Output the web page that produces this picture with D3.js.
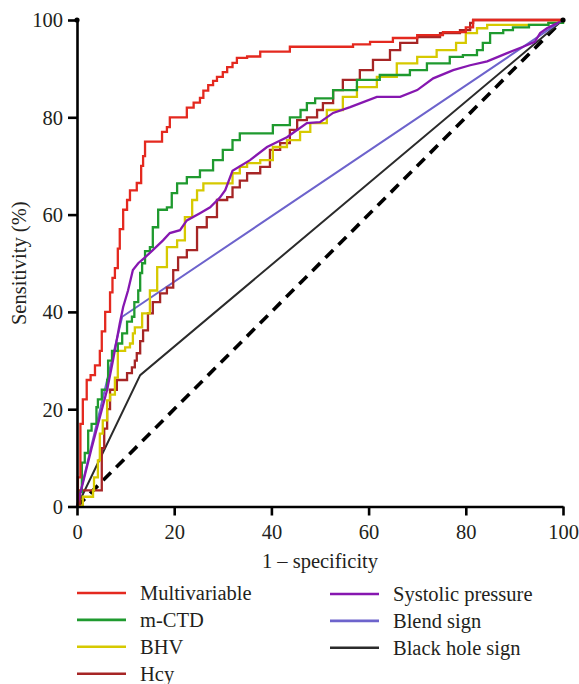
<!DOCTYPE html>
<html>
<head>
<meta charset="utf-8">
<script src="https://cdn.jsdelivr.net/npm/d3@7"></script>
<style>
  html, body { margin: 0; padding: 0; background: #fff; }
  svg { display: block; }
  text { font-family: "Liberation Serif", "DejaVu Serif", serif !important; fill: #231f20; }
</style>
</head>
<body>
<svg id="chart" width="579" height="684"></svg>
<script>
// ---- data (x = 1 - specificity %, y = sensitivity %) ----
const seriesNames = ["Multivariable", "m-CTD", "BHV", "Hcy", "Systolic pressure", "Blend sign", "Black hole sign"];
const seriesColors = ["#e4291f", "#1f9a2f", "#d6c900", "#a62525", "#8617b0", "#6d63cc", "#2b2b2b"];
const xTicks = [0, 20, 40, 60, 80, 100];
const yTicks = [0, 20, 40, 60, 80, 100];

const multivariable = [[0,0],[0.2,6],[0.7,17],[1.2,22],[2,26],[2.8,27],[3.7,29],[4.7,32],[5.1,36],[5.8,40],[6.8,44],[7.3,47],[7.8,49],[8.4,53],[8.8,57],[9.5,61],[10.3,63],[10.9,65],[12.3,66.5],[13.2,70],[13.6,72],[14,75],[16.5,75],[17.5,77],[18.5,78],[19.1,80],[21.2,80],[22.6,82],[24,83],[25.3,84],[26,85.5],[27,86.6],[28,87.5],[28.8,88.3],[30,89.3],[30.9,90.3],[32,91.2],[32.9,92.2],[35,92.5],[37.7,93.5],[43.8,94.5],[56.8,95],[60.3,95.5],[65,96.3],[70,96.9],[75.3,97.5],[80,98.5],[81.5,100],[100,100]];
const mctd = [[0,0],[0.2,3],[1,9],[1.6,11],[2.3,15.6],[3,17],[4,20.4],[4.3,22],[5.1,24],[6.2,26],[6.4,30],[7.2,32],[8.4,33.5],[9.3,35.6],[10.3,38],[11.3,39],[11.8,42],[12.6,44.4],[13,48],[13.4,50],[14,52.5],[15,53.3],[15.6,57.4],[16.7,61],[18.5,61.5],[19.5,64.4],[20.6,66.4],[22.6,67.7],[25.3,69.1],[28,71.2],[30,73.3],[32,75.3],[33.5,76.7],[37.7,76.7],[40.3,78.4],[43.8,80],[46,81.5],[47.3,82.9],[49,83.9],[52.7,85.6],[57.6,87.7],[62.3,88.7],[68.5,89.7],[72,91.1],[76.7,92.4],[79.4,92.8],[82.3,93.8],[83.5,95.3],[85,97.3],[87.7,97.9],[89.7,98.5],[93,99],[97,99.4],[100,100]];
const bhv = [[0,0],[1.2,2],[3.3,3.3],[3.5,6],[4.3,9.5],[4.7,15],[5.3,17.7],[6.2,21.8],[6.8,23],[7.8,26.5],[8.4,32],[9.9,32.7],[10.9,33.5],[11.5,35.6],[11.9,36.8],[13.4,39.7],[15,44.4],[16.5,49.2],[18.5,53.3],[20.6,54.7],[22.2,59.5],[23.7,63],[24.7,65],[26,66.4],[30.9,66.4],[32,68.5],[33.5,69.8],[35,70.6],[37.7,71.2],[40.3,73.9],[43.2,75.3],[45.9,77],[48,78.8],[51.4,81.5],[54.7,84.2],[57.6,86.2],[61.7,88.3],[65.8,91.1],[70,92.4],[74,93.8],[78,95.3],[80,97.3],[82.3,98.3],[84.4,99],[97,99.4],[100,100]];
const hcy = [[0,0],[0.6,3.3],[5.1,12],[5.6,16],[6.2,20],[6.8,24],[8.2,26],[10.3,27.4],[11.3,28.6],[11.9,30],[12.3,31.5],[13,34],[13.6,36.2],[14.6,39.7],[15.6,42],[17.1,43.8],[18.5,45],[19.8,48.6],[20.8,51.2],[22.6,52.7],[24.7,57.4],[26.7,59.5],[28.8,63],[30.9,63.6],[32,65.6],[33.5,67],[35,68.5],[37.7,69.8],[39.7,73.3],[41.8,74.7],[43.8,77.4],[45.3,79.4],[47.3,80],[49.4,81.5],[50.6,82.9],[52.7,85.6],[54.7,87.7],[58.2,89.7],[60.9,91.8],[64.4,93.8],[66.5,95.3],[70,96.5],[74.7,97.3],[78.8,97.9],[80.9,99.4],[81.5,100],[100,100]];
const systolic = [[0,0],[3,12],[6.2,24],[7.4,30],[8.8,37.6],[9.5,41],[10.5,44.4],[11.5,48.6],[12.6,50],[14,51.2],[15.6,52.7],[17.7,54.7],[19.1,56.2],[21.2,56.8],[22.6,58.8],[25.3,60.3],[27.4,61.5],[29.4,63.5],[30.5,65],[32,69],[35.6,71.2],[39.1,73.9],[43.2,75.9],[47.3,78.8],[50,79],[52.7,80.9],[56.2,82.1],[61.7,84.2],[66.5,84.2],[70,85.6],[73.3,88],[77.4,89.7],[80.9,90.7],[84.4,91.5],[88.5,93.2],[91.8,94.5],[94.2,95.5],[95.3,97.3],[96.7,98.3],[98.5,99.2],[100,100]];
const blend = [[0,0],[9.3,39],[100,100]];
const blackHole = [[0,0],[13,27],[100,100]];
const reference = [[0,0],[100,100]];

// ---- layout ----
const FONT = '"Liberation Serif", "DejaVu Serif", serif';
const svg = d3.select("#chart");
const x = d3.scaleLinear().domain([0, 100]).range([77, 563]);
const y = d3.scaleLinear().domain([0, 100]).range([506.5, 20]);

const stepLine = d3.line().x(d => x(d[0])).y(d => y(d[1])).curve(d3.curveStepAfter);
const linLine = d3.line().x(d => x(d[0])).y(d => y(d[1])).curve(d3.curveLinear);

// reference diagonal
svg.append("path").attr("d", linLine(reference))
  .attr("fill", "none").attr("stroke", "#000").attr("stroke-width", 3.6)
  .attr("stroke-dasharray", "11,7.5");

const series = [
  {data: multivariable, step: true},
  {data: mctd, step: true},
  {data: bhv, step: true},
  {data: hcy, step: true},
  {data: systolic, step: false},
  {data: blend, step: false},
  {data: blackHole, step: false}
];
const drawOrder = [6, 5, 3, 2, 1, 4, 0];
drawOrder.forEach(i => {
  const s = series[i];
  svg.append("path")
    .attr("d", (s.step ? stepLine : linLine)(s.data))
    .attr("fill", "none")
    .attr("stroke", seriesColors[i])
    .attr("stroke-width", i >= 5 ? 2 : 2.3)
    .attr("stroke-linejoin", "miter");
});

// ---- axes ----
const xAxis = svg.append("g").attr("transform", `translate(0,${y(0)})`)
  .call(d3.axisBottom(x).tickValues(xTicks).tickSize(9).tickPadding(9).tickSizeOuter(0));
const yAxis = svg.append("g").attr("transform", `translate(${x(0)},0)`)
  .call(d3.axisLeft(y).tickValues(yTicks).tickSize(9).tickPadding(5).tickSizeOuter(0));
[xAxis, yAxis].forEach(g => {
  g.attr("font-family", FONT).attr("font-size", 20.5);
  g.select(".domain").attr("stroke", "#000").attr("stroke-width", 2.6);
  g.selectAll(".tick line").attr("stroke", "#000").attr("stroke-width", 2.6);
  g.selectAll(".tick text").attr("font-size", 20.5).attr("fill", "#231f20")
    .style("font-family", FONT);
});
xAxis.selectAll(".tick text").attr("dy", "0.71em");
yAxis.selectAll(".tick text").attr("dy", "0.34em");
// end cap dots
svg.append("circle").attr("cx", x(0)).attr("cy", y(100)).attr("r", 2.6).attr("fill", "#000");
svg.append("circle").attr("cx", x(100)).attr("cy", y(100)).attr("r", 2.6).attr("fill", "#000");

// axis titles
svg.append("text").attr("x", 320).attr("y", 568).attr("text-anchor", "middle")
  .attr("font-size", 20.5).style("font-family", FONT).text("1 \u2013 specificity");
svg.append("text").attr("transform", `translate(26,${(y(0) + y(100)) / 2}) rotate(-90)`)
  .attr("text-anchor", "middle").attr("font-size", 20.5).style("font-family", FONT).text("Sensitivity (%)");

// ---- legend ----
const legendCols = [{lx: 77, tx: 140, y0: 593}, {lx: 330, tx: 393, y0: 594}];
const rowH = 26.9;
seriesNames.forEach((name, i) => {
  const col = i < 4 ? legendCols[0] : legendCols[1];
  const row = i < 4 ? i : i - 4;
  const yy = col.y0 + row * rowH;
  svg.append("line").attr("x1", col.lx).attr("x2", col.lx + 49)
    .attr("y1", yy).attr("y2", yy)
    .attr("stroke", seriesColors[i]).attr("stroke-width", 2.6);
  svg.append("text").attr("x", col.tx).attr("y", yy + 7)
    .attr("font-size", 20.5).style("font-family", FONT).text(name);
});
</script>
</body>
</html>
